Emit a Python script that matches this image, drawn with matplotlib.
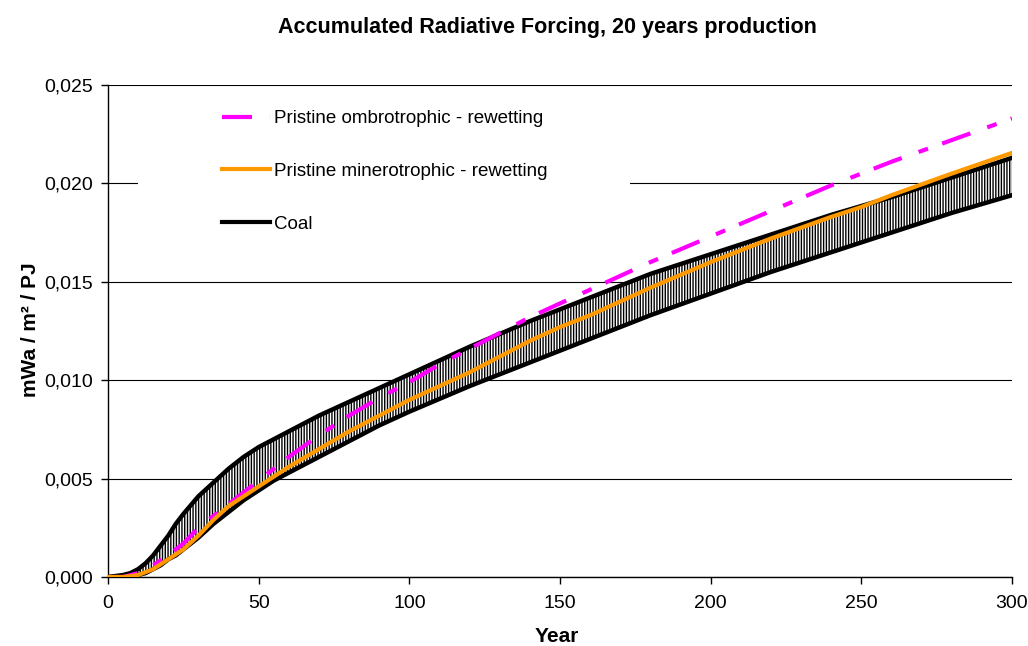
import matplotlib
matplotlib.use("Agg")
import matplotlib.pyplot as plt
from matplotlib.patches import Rectangle
from matplotlib.lines import Line2D

plt.rcParams['font.family'] = ['Liberation Sans', 'DejaVu Sans']
plt.rcParams['hatch.linewidth'] = 1.0

# ---- data ----
coal_years = [0, 5, 7.5, 10, 12.5, 15, 17.5, 20, 22.5, 25, 30, 35, 40, 45, 50, 55, 60, 65, 70,
              80, 90, 100, 120, 140, 150, 160, 180, 200, 220, 240, 250, 260, 280, 300]
coal_upper = [0.0, 0.0001, 0.0002, 0.0004, 0.0007, 0.0011, 0.0016, 0.0021, 0.0027, 0.0032,
              0.0041, 0.0048, 0.0055, 0.0061, 0.0066, 0.0070, 0.0074, 0.0078, 0.0082,
              0.0089, 0.0096, 0.0103, 0.0117, 0.0130, 0.0136, 0.0142, 0.0154, 0.0164,
              0.0174, 0.0184, 0.01885, 0.0193, 0.0203, 0.0213]
coal_lower = [0.0, 0.0, 0.0, 0.0001, 0.0002, 0.0004, 0.0006, 0.0009, 0.0011, 0.0014,
              0.0020, 0.0027, 0.0033, 0.0039, 0.0044, 0.0049, 0.0053, 0.0057, 0.0061,
              0.0069, 0.0077, 0.0084, 0.0097, 0.0109, 0.0115, 0.0121, 0.0133, 0.0144,
              0.0155, 0.0165, 0.0170, 0.0175, 0.0185, 0.0194]

peat_years = [0, 5, 10, 15, 20, 25, 30, 35, 40, 50, 60, 70, 80, 90, 100, 110, 120, 140, 150,
              160, 180, 200, 220, 240, 250, 260, 280, 300]
ombro = [0.0, 0.0, 0.0002, 0.0006, 0.0011, 0.0017, 0.0025, 0.0031, 0.0037, 0.0049, 0.0061,
         0.0072, 0.0082, 0.0091, 0.0099, 0.0108, 0.0116, 0.0132, 0.0139,
         0.0146, 0.0160, 0.0173, 0.0186, 0.0199, 0.0205, 0.0211, 0.0222, 0.0233]
minero = [0.0, 0.0, 0.0001, 0.0004, 0.0009, 0.0014, 0.0021, 0.0029, 0.0036, 0.0046, 0.0056,
          0.0065, 0.0074, 0.0082, 0.0090, 0.0097, 0.0104, 0.0120, 0.0127,
          0.0133, 0.0147, 0.0160, 0.0172, 0.0183, 0.0188, 0.0194, 0.0205, 0.02155]

x_ticks = [0, 50, 100, 150, 200, 250, 300]
y_ticks = [0.0, 0.005, 0.010, 0.015, 0.020, 0.025]
y_tick_labels = ['0,000', '0,005', '0,010', '0,015', '0,020', '0,025']

labels = ['Pristine ombrotrophic - rewetting', 'Pristine minerotrophic - rewetting', 'Coal']
title = 'Accumulated Radiative Forcing, 20 years production'

# ---- figure ----
fig = plt.figure(figsize=(10.28, 6.46), dpi=100)
ax = fig.add_axes([108/1028, 1-577/646, 904/1028, 492/646])

ax.set_xlim(0, 300)
ax.set_ylim(0, 0.025)
ax.set_xticks(x_ticks)
ax.set_yticks(y_ticks)
ax.set_yticklabels(y_tick_labels)
ax.tick_params(axis='both', direction='out', length=5, width=1, labelsize=14, color='black')
ax.tick_params(axis='x', pad=8)
ax.tick_params(axis='y', pad=6)
for s in ['top', 'right']:
    ax.spines[s].set_visible(False)
for s in ['left', 'bottom']:
    ax.spines[s].set_linewidth(1.0)
ax.yaxis.grid(True, color='black', linewidth=0.8)
ax.set_axisbelow(True)

# white legend background hiding the grid
ax.add_patch(Rectangle((30/904, (577-245)/492), (630-138)/904, 150/492,
                       transform=ax.transAxes, facecolor='white', edgecolor='none', zorder=1))

ax.fill_between(coal_years, coal_lower, coal_upper, facecolor='white', edgecolor='black',
                hatch='||||||', linewidth=0, zorder=1.5)
ax.plot(coal_years, coal_upper, color='black', linewidth=3.2, zorder=2)
ax.plot(coal_years, coal_lower, color='black', linewidth=3.2, zorder=2)
ax.plot(peat_years, ombro, color='#FF00FF', linewidth=3, zorder=3,
        dashes=(7.2, 4.3, 2.4, 3.6))
ax.plot(peat_years, minero, color='#FF9900', linewidth=3, zorder=4)

handles = [Line2D([], [], color='#FF00FF', linewidth=3, dashes=(7.2, 4.3, 2.4, 3.6)),
           Line2D([], [], color='#FF9900', linewidth=3),
           Line2D([], [], color='black', linewidth=3)]
leg = ax.legend(handles, labels, loc='upper left', bbox_to_anchor=((222-108)/904, (577-110)/492),
                frameon=False, fontsize=13.5, handlelength=2.55, handletextpad=0.2,
                labelspacing=1.9, borderaxespad=0, borderpad=0)
leg.set_zorder(5)

fig.text(547/1028, 1-27/646, title, ha='center', va='center', fontsize=15.5, fontweight='bold')
fig.text(557/1028, 1-636/646, 'Year', ha='center', va='center', fontsize=15, fontweight='bold')
fig.text(30/1028, 1-330/646, 'mWa / m² / PJ', ha='center', va='center', rotation=90,
         fontsize=15, fontweight='bold')

fig.savefig('out.png', dpi=100)
